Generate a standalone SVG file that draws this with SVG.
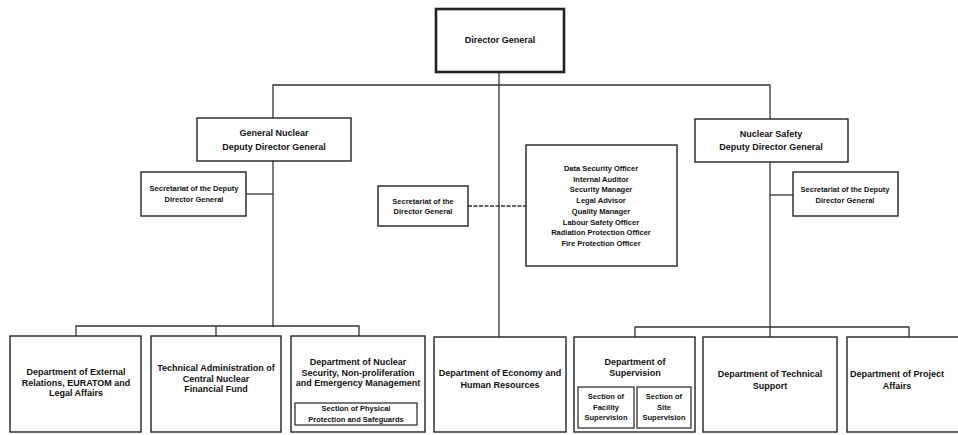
<svg xmlns="http://www.w3.org/2000/svg" width="958" height="435" viewBox="0 0 958 435">
<style>
.box{fill:#fff;stroke:#222;stroke-width:1.4}
.sub{fill:#fff;stroke:#222;stroke-width:1.2}
.dg{fill:#fff;stroke:#222;stroke-width:2.6}
.ln{fill:none;stroke:#333;stroke-width:1.3}
text{font-family:"Liberation Sans",Arial,sans-serif;font-weight:bold;fill:#111;text-anchor:middle}
.t8{font-size:9px}
.t6{font-size:7.5px}
</style>
<rect width="958" height="435" fill="#fff"/>
<g id="connectors">
<polyline class="ln" points="499,72 499,337"/>
<polyline class="ln" points="273,118 273,85 770,85 770,119"/>
<polyline class="ln" points="273,161 273,327"/>
<polyline class="ln" points="246,194 273,194"/>
<polyline class="ln" points="770,162 770,327"/>
<polyline class="ln" points="770,195 793,195"/>
<polyline class="ln" stroke-dasharray="4,1.5" points="468,206 526,206"/>
<polyline class="ln" points="76,336 76,326 359,326 359,336"/>
<polyline class="ln" points="216,326 216,336"/>
<polyline class="ln" points="635,337 635,327 909,327 909,337"/>
<polyline class="ln" points="770,327 770,337"/>
</g>
<g id="director-general">
<rect class="dg" x="436" y="9" width="128" height="63"/>
<text class="t8" x="500" y="43">Director General</text>
</g>
<g id="general-nuclear-ddg">
<rect class="box" x="197" y="118" width="154" height="43"/>
<text class="t8" x="274" y="136">General Nuclear</text>
<text class="t8" x="274" y="150">Deputy Director General</text>
</g>
<g id="nuclear-safety-ddg">
<rect class="box" x="695" y="119" width="153" height="43"/>
<text class="t8" x="771" y="137">Nuclear Safety</text>
<text class="t8" x="771" y="150">Deputy Director General</text>
</g>
<g id="secretariat-left">
<rect class="box" x="141" y="172" width="105" height="44"/>
<text class="t6" x="194" y="191">Secretariat of the Deputy</text>
<text class="t6" x="194" y="202">Director General</text>
</g>
<g id="secretariat-right">
<rect class="box" x="793" y="172" width="105" height="44"/>
<text class="t6" x="845" y="192">Secretariat of the Deputy</text>
<text class="t6" x="845" y="203">Director General</text>
</g>
<g id="secretariat-dg">
<rect class="box" x="378" y="186" width="90" height="40"/>
<text class="t6" x="423" y="204">Secretariat of the</text>
<text class="t6" x="423" y="214">Director General</text>
</g>
<g id="officers">
<rect class="box" x="526" y="145" width="151" height="121"/>
<text class="t6" x="601" y="171">Data Security Officer</text>
<text class="t6" x="601" y="181.7">Internal Auditor</text>
<text class="t6" x="601" y="192.4">Security Manager</text>
<text class="t6" x="601" y="203.1">Legal Advisor</text>
<text class="t6" x="601" y="213.8">Quality Manager</text>
<text class="t6" x="601" y="224.5">Labour Safety Officer</text>
<text class="t6" x="601" y="235.2">Radiation Protection Officer</text>
<text class="t6" x="601" y="245.9">Fire Protection Officer</text>
</g>
<g id="dept-external">
<rect class="box" x="10" y="336" width="131" height="96"/>
<text class="t8" x="76" y="375">Department of External</text>
<text class="t8" x="76" y="385.5">Relations, EURATOM and</text>
<text class="t8" x="76" y="396">Legal Affairs</text>
</g>
<g id="tech-admin">
<rect class="box" x="151" y="336" width="130" height="96"/>
<text class="t8" x="216" y="371">Technical Administration of</text>
<text class="t8" x="216" y="381.5">Central Nuclear</text>
<text class="t8" x="216" y="392">Financial Fund</text>
</g>
<g id="dept-nuclear-security">
<rect class="box" x="291" y="336" width="134" height="96"/>
<text class="t8" x="358" y="365">Department of Nuclear</text>
<text class="t8" x="358" y="375.5">Security, Non-proliferation</text>
<text class="t8" x="358" y="386">and Emergency Management</text>
<rect class="sub" x="295" y="403" width="122" height="22"/>
<text class="t6" x="356" y="411">Section of Physical</text>
<text class="t6" x="356" y="421.5">Protection and Safeguards</text>
</g>
<g id="dept-economy">
<rect class="box" x="434" y="337" width="132" height="95"/>
<text class="t8" x="500" y="376">Department of Economy and</text>
<text class="t8" x="500" y="388">Human Resources</text>
</g>
<g id="dept-supervision">
<rect class="box" x="574" y="337" width="121" height="95"/>
<text class="t8" x="635" y="365">Department of</text>
<text class="t8" x="635" y="376">Supervision</text>
<rect class="sub" x="578" y="387" width="56" height="41"/>
<text class="t6" x="606" y="399">Section of</text>
<text class="t6" x="606" y="409.5">Facility</text>
<text class="t6" x="606" y="420">Supervision</text>
<rect class="sub" x="637" y="387" width="54" height="41"/>
<text class="t6" x="664" y="399">Section of</text>
<text class="t6" x="664" y="409.5">Site</text>
<text class="t6" x="664" y="420">Supervision</text>
</g>
<g id="dept-technical-support">
<rect class="box" x="703" y="337" width="134" height="95"/>
<text class="t8" x="770" y="377">Department of Technical</text>
<text class="t8" x="770" y="389">Support</text>
</g>
<g id="dept-project-affairs">
<rect class="box" x="847" y="337" width="120" height="95"/>
<text class="t8" x="897" y="377">Department of Project</text>
<text class="t8" x="897" y="389">Affairs</text>
</g>
</svg>
